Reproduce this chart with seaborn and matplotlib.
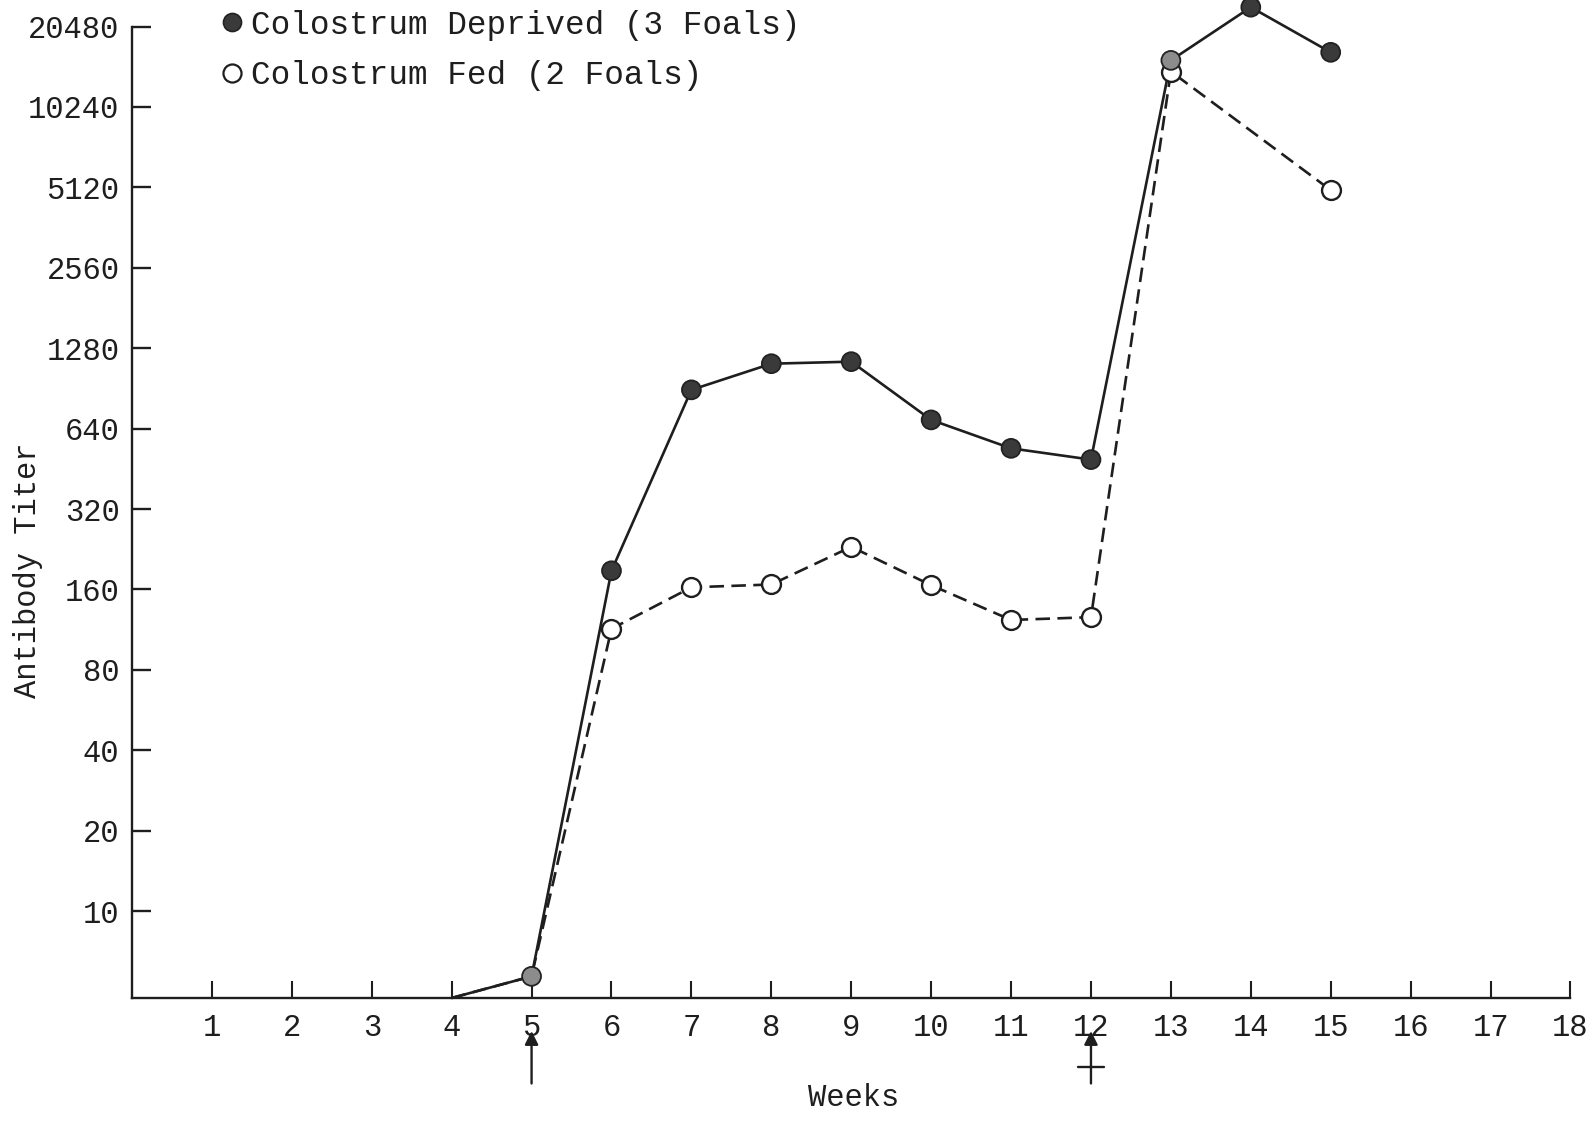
import matplotlib
matplotlib.use("Agg")
import matplotlib.pyplot as plt
import matplotlib.transforms as mtransforms
from matplotlib.lines import Line2D
import seaborn as sns
import pandas as pd

# ---- data ----
weeks_deprived = [4, 5, 6, 7, 8, 9, 10, 11, 12, 13, 14, 15]
titer_deprived = [4.73, 5.7, 188, 894, 1120, 1140, 690, 540, 490, 15300, 24200, 16400]
weeks_fed = [4, 5, 6, 7, 8, 9, 10, 11, 12, 13, 15]
titer_fed = [4.73, 5.7, 114, 163, 167, 231, 166, 123, 126, 13900, 5000]
y_ticks = [10, 20, 40, 80, 160, 320, 640, 1280, 2560, 5120, 10240, 20480]
x_ticks = list(range(1, 19))
arrow_weeks = [5, 12]
label_deprived = "Colostrum Deprived (3 Foals)"
label_fed = "Colostrum Fed (2 Foals)"

sns.set_theme(style="ticks")
plt.rcParams["font.family"] = ["Liberation Mono", "DejaVu Sans"]
plt.rcParams["font.size"] = 22

df = pd.concat([
    pd.DataFrame({"week": weeks_deprived, "titer": titer_deprived, "group": label_deprived}),
    pd.DataFrame({"week": weeks_fed, "titer": titer_fed, "group": label_fed}),
])

fig = plt.figure(figsize=(15.96, 11.25), dpi=100)
ax = fig.add_axes([0.0827, 0.1129, 0.9013, 0.8635])
ax.set_yscale("log", base=2)

ink = "#1e1e1e"
sns.lineplot(data=df, x="week", y="titer", hue="group", style="group",
             palette={label_deprived: ink, label_fed: ink},
             dashes={label_deprived: "", label_fed: (5.5, 2.8)},
             linewidth=1.9, ax=ax, legend=False, clip_on=False, estimator=None)

# markers: fed (open) first, deprived (filled) on top
fed_pts = df[(df.group == label_fed) & (df.week > 5)]
sns.scatterplot(data=fed_pts, x="week", y="titer", s=185, color="white",
                edgecolor=ink, linewidth=1.7, ax=ax, clip_on=False, zorder=4)
dep_pts = df[(df.group == label_deprived) & (df.week > 4)].copy()
dep_fc = ["#8c8c8c" if w in (5, 13) else "#3a3a3a" for w in dep_pts.week]
ax.scatter(dep_pts.week, dep_pts.titer, s=185, c=dep_fc, edgecolors="#222222",
           linewidths=1.3, zorder=5, clip_on=False)

ax.set_xlim(0, 18)
ax.set_ylim(4.73, 20480)
ax.set_yticks(y_ticks)
ax.set_yticklabels([str(v) for v in y_ticks])
ax.yaxis.set_minor_locator(matplotlib.ticker.NullLocator())
ax.set_xticks(x_ticks)
ax.set_xticklabels([str(v) for v in x_ticks])

for s in ["top", "right"]:
    ax.spines[s].set_visible(False)
for s in ["left", "bottom"]:
    ax.spines[s].set_linewidth(1.7)
    ax.spines[s].set_color(ink)
ax.tick_params(axis="y", direction="in", length=14, width=1.7, pad=9,
               colors=ink, labelsize=22)
ax.tick_params(axis="x", direction="in", length=12, width=1.5, pad=11,
               colors=ink, labelsize=22)

ax.set_xlabel("Weeks", fontsize=22, color=ink)
ax.set_ylabel("Antibody Titer", fontsize=22, color=ink)
ax.xaxis.set_label_coords(0.502, -0.088)
ax.yaxis.set_label_coords(-0.062, 0.44)

# arrows below the x-axis
trans = mtransforms.blended_transform_factory(ax.transData, ax.transAxes)
for w in arrow_weeks:
    ax.annotate("", xy=(w, -0.034), xytext=(w, -0.088), xycoords=trans,
                textcoords=trans,
                arrowprops=dict(arrowstyle="-|>", color=ink, lw=1.7,
                                mutation_scale=20, shrinkA=0, shrinkB=0))
ax.plot([arrow_weeks[1] - 0.16, arrow_weeks[1] + 0.16], [-0.071, -0.071],
        transform=trans, color=ink, lw=1.7, clip_on=False)

handles = [
    Line2D([], [], marker="o", linestyle="none", markersize=13,
           markerfacecolor="#3a3a3a", markeredgecolor="#222222", markeredgewidth=1.2),
    Line2D([], [], marker="o", linestyle="none", markersize=13,
           markerfacecolor="white", markeredgecolor=ink, markeredgewidth=1.6),
]
fig.legend(handles, [label_deprived, label_fed], loc="upper left",
           bbox_to_anchor=(0.139, 0.9915), frameon=False, fontsize=23.5,
           handlelength=0.6, handletextpad=0.3, labelspacing=0.6,
           borderpad=0.0, borderaxespad=0.0, labelcolor=ink)

fig.savefig("out.png", dpi=100, facecolor="white")
